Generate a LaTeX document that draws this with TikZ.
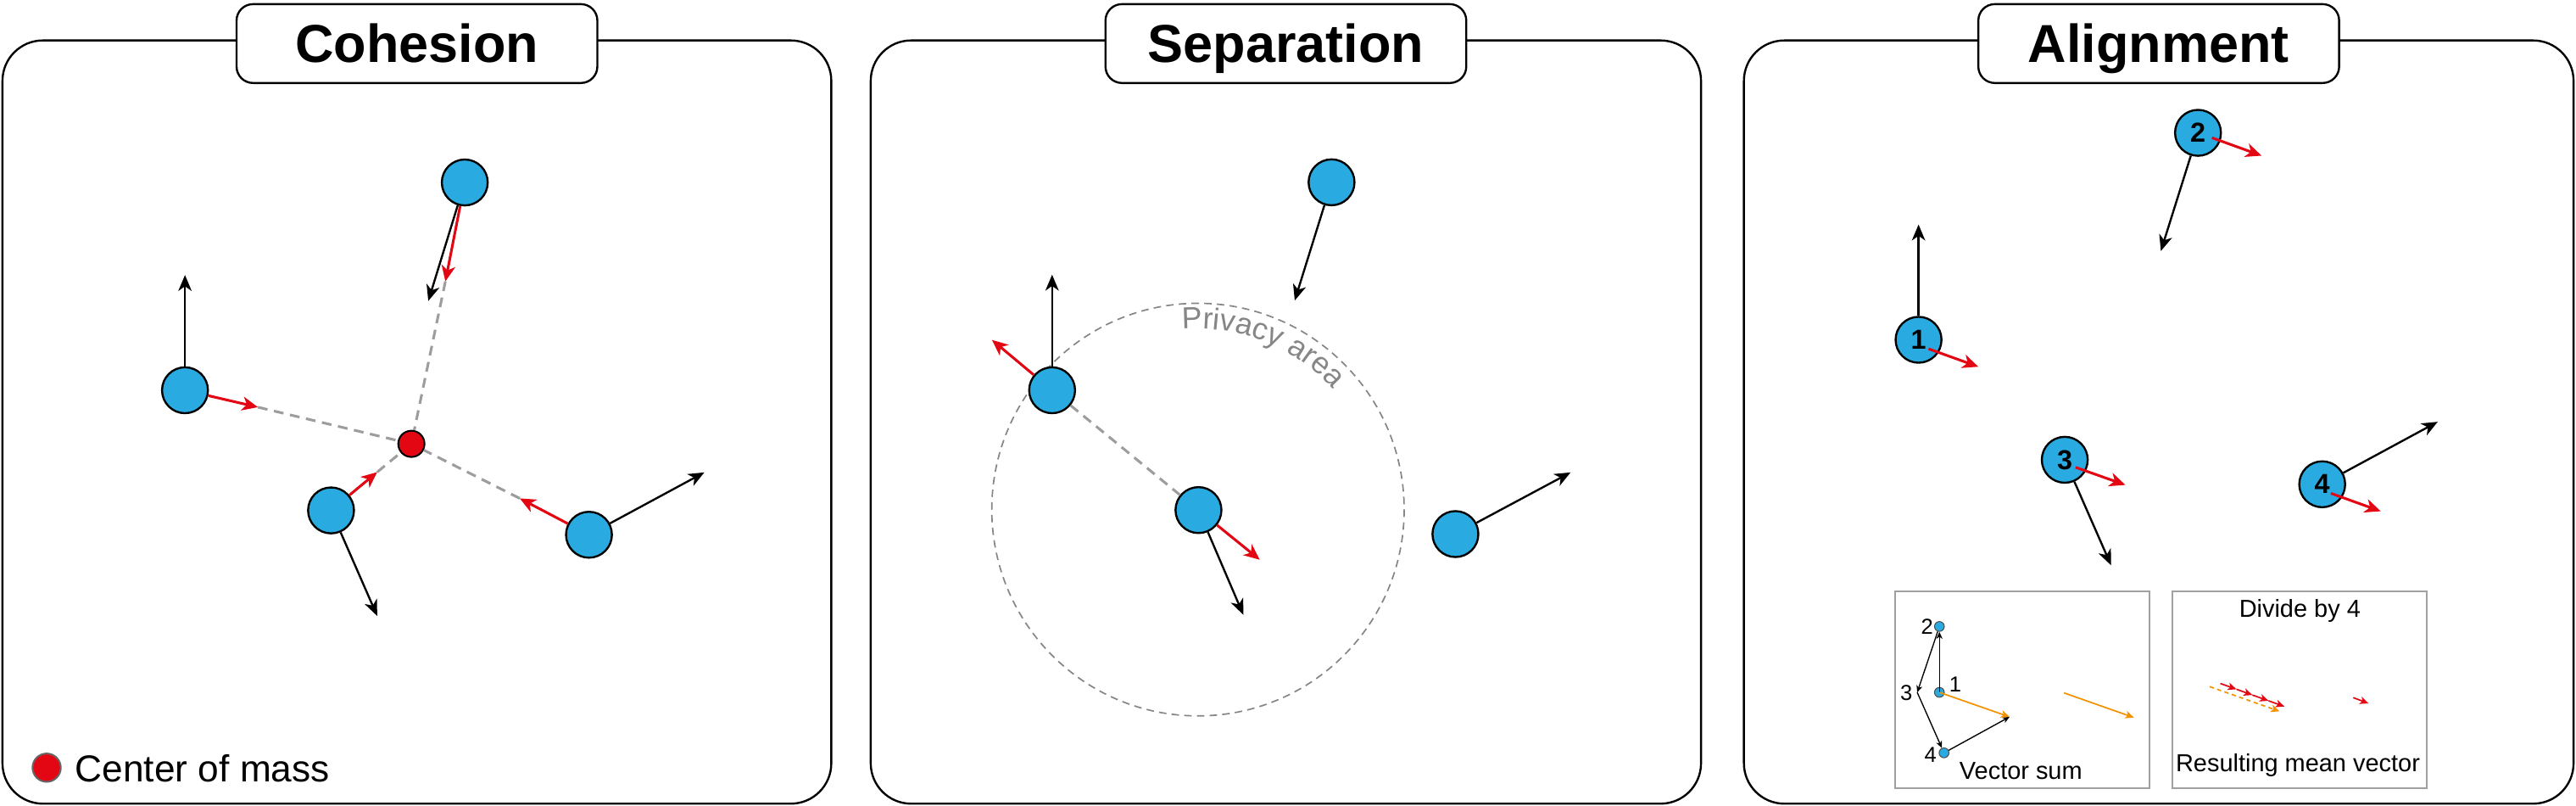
\documentclass[tikz,border=0pt]{standalone}
\usepackage{fontspec}
\setmainfont{Liberation Sans}
\usetikzlibrary{arrows.meta,decorations.text,calc}
\definecolor{boidblue}{HTML}{29ABE2}
\definecolor{vred}{HTML}{E30613}
\definecolor{vorange}{HTML}{F39200}
\definecolor{dgray}{HTML}{9D9D9D}
\definecolor{pgray}{HTML}{868686}
\definecolor{fgray}{HTML}{A0A0A0}
\tikzset{
  panel/.style={draw, line width=0.7pt, rounded corners=14pt},
  titlebox/.style={draw, fill=white, line width=0.7pt, rounded corners=5.7pt,
    minimum width=125pt, minimum height=27.3pt, inner sep=0pt,
    text height=16pt, text depth=3pt, font=\fontsize{18.5}{20}\selectfont\bfseries},
  boid/.style={circle, draw, line width=0.7pt, fill=boidblue, minimum size=15.9pt,
    inner sep=0pt, font=\fontsize{9.5}{10}\selectfont\bfseries},
  com/.style={circle, draw, line width=0.6pt, fill=vred, minimum size=9.1pt, inner sep=0pt},
  vel/.style={line width=0.7pt, -{Stealth[length=5.5pt,width=4.6pt,inset=1.6pt]}},
  steer/.style={vred, line width=0.9pt, -{Stealth[length=5.5pt,width=4.8pt,inset=1.6pt]}},
  link/.style={dgray, line width=0.9pt, dash pattern=on 3.4pt off 2.3pt},
  privacy/.style={pgray, line width=0.5pt, dash pattern=on 2.6pt off 1.8pt},
  insetbox/.style={draw=fgray, line width=0.6pt},
  dot/.style={circle, draw=black!70, line width=0.3pt, fill=boidblue, minimum size=3.4pt, inner sep=0pt},
  svel/.style={line width=0.4pt, -{Stealth[length=2.4pt,width=2.1pt,inset=0.7pt]}},
  ssteer/.style={vred, line width=0.5pt, -{Stealth[length=3pt,width=2.6pt,inset=0.8pt]}},
  sorange/.style={vorange, line width=0.5pt, -{Stealth[length=3pt,width=2.6pt,inset=0.8pt]}},
  smalltxt/.style={inner sep=0pt, font=\fontsize{7.5}{8}\selectfont},
  insettxt/.style={inner sep=0pt, font=\fontsize{8.5}{9}\selectfont},
}
\begin{document}
\begin{tikzpicture}[x=0.02cm, y=-0.02cm]
\useasboundingbox (0,0) rectangle (1568,490);

% ---------- panels ----------
\draw[panel] (1.5,24.6) rectangle (506,488.9);
\draw[panel] (530,24.6) rectangle (1035.4,488.9);
\draw[panel] (1061.5,24.6) rectangle (1566.5,488.9);
\node[titlebox] (t1) at (253.8,26.5) {Cohesion};
\node[titlebox] (t2) at (782.7,26.5) {Separation};
\node[titlebox] (t3) at (1314,26.5) {Alignment};

% ---------- Cohesion ----------
\node[boid] (cA) at (112.6,237.4) {};
\node[boid] (cB) at (282.9,111) {};
\node[boid] (cC) at (201.5,310.5) {};
\node[boid] (cD) at (358.5,325.3) {};
\node[com] (cm) at (250.4,270) {};
\coordinate (cAv) at (112.6,167.3);
\coordinate (cAs) at (157,247.7);
\coordinate (cBv) at (260.7,183.1);
\coordinate (cBs) at (271.1,171.2);
\coordinate (cCv) at (229.6,374.7);
\coordinate (cCs) at (229.6,287.2);
\coordinate (cDv) at (428.7,287.4);
\coordinate (cDs) at (316.4,303.2);
\draw[link] (cAs) -- (cm);
\draw[link] (cBs) -- (cm);
\draw[link] (cCs) -- (cm);
\draw[link] (cDs) -- (cm);
\draw[vel] (cA) -- (cAv);
\draw[vel] (cB) -- (cBv);
\draw[vel] (cC) -- (cCv);
\draw[vel] (cD) -- (cDv);
\draw[steer] (cA) -- (cAs);
\draw[steer] (cB) -- (cBs);
\draw[steer] (cC) -- (cCs);
\draw[steer] (cD) -- (cDs);
\node[com, minimum size=9.8pt, draw=black!60] (lg) at (28.4,467) {};
\node[anchor=base west, inner sep=0pt, font=\fontsize{13}{15}\selectfont] (lgt) at (45.5,475.5) {Center of mass};

% ---------- Separation ----------
\draw[privacy] (729.2,310) circle[radius=125.5];
\path[decorate, decoration={text along path, text align=left,
   text={|\fontsize{10.5}{12}\selectfont\color{pgray}|Privacy area}}]
   (719.6,200.4) arc[start angle=-95, end angle=-20, radius=110];
\node[boid] (sT) at (810.5,110.9) {};
\node[boid] (sL) at (640.4,237.4) {};
\node[boid] (sM) at (729.5,310.3) {};
\node[boid] (sR) at (885.9,324.9) {};
\coordinate (sTv) at (788.1,182.8);
\coordinate (sLv) at (640.4,167.1);
\coordinate (sLs) at (603.8,206.8);
\coordinate (sMs) at (766.8,340.5);
\coordinate (sMv) at (756.8,374);
\coordinate (sRv) at (956,287.4);
\draw[link] (sL) -- (sM);
\draw[vel] (sT) -- (sTv);
\draw[vel] (sL) -- (sLv);
\draw[vel] (sM) -- (sMv);
\draw[vel] (sR) -- (sRv);
\draw[steer] (sL) -- (sLs);
\draw[steer] (sM) -- (sMs);

% ---------- Alignment ----------
\node[boid] (a1) at (1167.8,206.7) {1};
\node[boid] (a2) at (1337.9,80.8) {2};
\node[boid] (a3) at (1256.8,279.7) {3};
\node[boid] (a4) at (1413.5,294.6) {4};
\coordinate (a1v) at (1167.8,136.6);
\coordinate (a1s) at (1204.2,223.1);
\coordinate (a2v) at (1315.3,152.7);
\coordinate (a2s) at (1376.6,94.7);
\coordinate (a3v) at (1285,343.9);
\coordinate (a3s) at (1293.7,295);
\coordinate (a4v) at (1483.8,256.6);
\coordinate (a4s) at (1449.1,311);
\draw[vel] (a1) -- (a1v);
\draw[vel] (a2) -- (a2v);
\draw[vel] (a3) -- (a3v);
\draw[vel] (a4) -- (a4v);
\draw[steer] ([shift={(6.1,5.5)}]a1.center) -- (a1s);
\draw[steer] ([shift={(8.5,3)}]a2.center) -- (a2s);
\draw[steer] ([shift={(6.6,4.6)}]a3.center) -- (a3s);
\draw[steer] ([shift={(5.3,5.5)}]a4.center) -- (a4s);

% inset: vector sum
\draw[insetbox] (1153.5,359.6) rectangle (1308.4,479.5);
\node[dot] (d1) at (1180.5,421.2) {};
\node[dot] (d2) at (1180.5,381.1) {};
\node[dot] (d4) at (1183.3,458) {};
\coordinate (p3) at (1167,421.2);
\coordinate (sum) at (1223.2,436.1);
\coordinate (o1) at (1256.3,421.5);
\coordinate (o2) at (1298.9,436.5);
\draw[svel] (d1.center) -- (d2);
\draw[svel] (d2) -- (p3);
\draw[svel] (p3) -- (d4);
\draw[svel] (d4) -- (sum);
\draw[sorange] (d1.center) -- (sum);
\draw[sorange] (o1) -- (o2);
\node[smalltxt] (l1) at (1190.2,416.4) {1};
\node[smalltxt] (l2) at (1173,381) {2};
\node[smalltxt] (l3) at (1160.4,421.5) {3};
\node[smalltxt] (l4) at (1175.1,459) {4};
\node[insettxt] (vs) at (1230.1,468.8) {Vector sum};

% inset: divide by 4
\draw[insetbox] (1322.1,359.9) rectangle (1477,479.5);
\node[insettxt] (div) at (1399.9,371.6) {Divide by 4};
\node[insettxt] (res) at (1398.7,465.4) {Resulting mean vector};
\coordinate (m0) at (1351.5,415.8);
\coordinate (m1) at (1361.3,419.3);
\coordinate (m2) at (1371,422.8);
\coordinate (m3) at (1380.8,426.3);
\coordinate (m4) at (1390.5,429.8);
\coordinate (q0) at (1345,417.7);
\coordinate (q1) at (1387.5,432.7);
\coordinate (r0) at (1432.4,424.4);
\coordinate (r1) at (1441.7,427.9);
\draw[sorange, dash pattern=on 1.5pt off 1.2pt] (q0) -- (q1);
\draw[ssteer] (m0) -- (m1);
\draw[ssteer] (m1) -- (m2);
\draw[ssteer] (m2) -- (m3);
\draw[ssteer] (m3) -- (m4);
\draw[ssteer] (r0) -- (r1);
\end{tikzpicture}
\end{document}
